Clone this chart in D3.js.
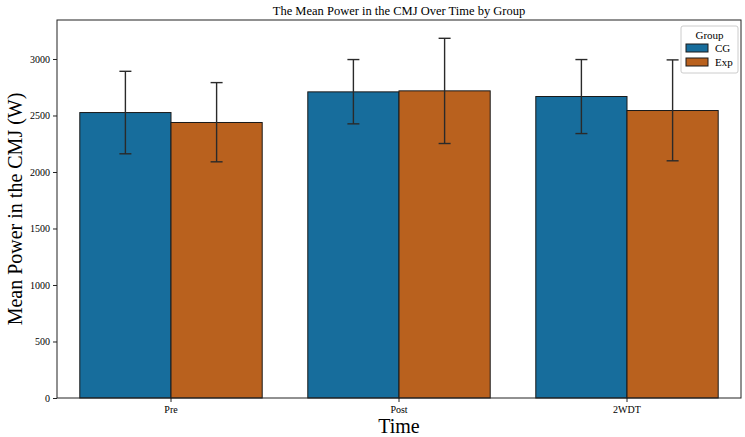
<!DOCTYPE html>
<html>
<head>
<meta charset="utf-8">
<script src="https://cdn.jsdelivr.net/npm/d3@7"></script>
<style>
  body { margin: 0; background: #fff; }
  svg text { font-family: "Liberation Serif", "Times New Roman", serif; fill: #000; }
</style>
</head>
<body>
<div id="chart"></div>
<script>
// Data
const times = ["Pre", "Post", "2WDT"];
const groups = ["CG", "Exp"];
const cgMean = [2526, 2709, 2668];
const cgLow = [2161, 2426, 2340];
const cgHigh = [2891, 2995, 2995];
const expMean = [2438, 2718, 2544];
const expLow = [2090, 2252, 2099];
const expHigh = [2791, 3183, 2992];
const yTicks = [0, 500, 1000, 1500, 2000, 2500, 3000];

const colors = { CG: "#176d9c", Exp: "#b9611e" };

const rows = [];
times.forEach((t, i) => {
    rows.push({ time: t, group: "CG", mean: cgMean[i], lo: cgLow[i], hi: cgHigh[i] });
    rows.push({ time: t, group: "Exp", mean: expMean[i], lo: expLow[i], hi: expHigh[i] });
});

const width = 745, height = 437;
const margin = { top: 20, right: 4, bottom: 39, left: 57 };
const innerW = width - margin.left - margin.right;
const innerH = height - margin.top - margin.bottom;

const svg = d3.select("#chart").append("svg")
    .attr("width", width)
    .attr("height", height);

const g = svg.append("g")
    .attr("transform", `translate(${margin.left},${margin.top})`);

// Scales
const x = d3.scaleBand().domain(times).range([0, innerW]).paddingInner(0.2).paddingOuter(0.1);
const x1 = d3.scaleBand().domain(groups).range([0, x.bandwidth()]);
const y = d3.scaleLinear().domain([0, 3345]).range([innerH, 0]);

// Bars
g.selectAll("rect.bar")
    .data(rows)
    .enter().append("rect")
    .attr("class", "bar")
    .attr("x", d => x(d.time) + x1(d.group))
    .attr("y", d => y(d.mean))
    .attr("width", x1.bandwidth())
    .attr("height", d => y(0) - y(d.mean))
    .attr("fill", d => colors[d.group])
    .attr("stroke", "#1a1a1a")
    .attr("stroke-width", 1);

// Error bars
const cap = 6;
const err = g.selectAll("g.err")
    .data(rows)
    .enter().append("g")
    .attr("class", "err")
    .attr("stroke", "#2a2a2a")
    .attr("stroke-width", 1.4);
err.append("line")
    .attr("x1", d => x(d.time) + x1(d.group) + x1.bandwidth() / 2)
    .attr("x2", d => x(d.time) + x1(d.group) + x1.bandwidth() / 2)
    .attr("y1", d => y(d.lo))
    .attr("y2", d => y(d.hi));
err.append("line")
    .attr("x1", d => x(d.time) + x1(d.group) + x1.bandwidth() / 2 - cap)
    .attr("x2", d => x(d.time) + x1(d.group) + x1.bandwidth() / 2 + cap)
    .attr("y1", d => y(d.hi))
    .attr("y2", d => y(d.hi));
err.append("line")
    .attr("x1", d => x(d.time) + x1(d.group) + x1.bandwidth() / 2 - cap)
    .attr("x2", d => x(d.time) + x1(d.group) + x1.bandwidth() / 2 + cap)
    .attr("y1", d => y(d.lo))
    .attr("y2", d => y(d.lo));

// Axes
const xAxis = g.append("g")
    .attr("transform", `translate(0,${innerH})`)
    .call(d3.axisBottom(x).tickSize(4).tickPadding(4));
const yAxis = g.append("g")
    .call(d3.axisLeft(y).tickValues(yTicks).tickFormat(d3.format("d")).tickSize(4).tickPadding(3));
[xAxis, yAxis].forEach(a => {
    a.select(".domain").remove();
    a.selectAll("text").style("font-size", "10px");
    a.selectAll("line").attr("stroke", "#222");
});

// Frame
g.append("rect")
    .attr("width", innerW)
    .attr("height", innerH)
    .attr("fill", "none")
    .attr("stroke", "#222")
    .attr("stroke-width", 1);

// Labels
svg.append("text")
    .attr("x", margin.left + innerW / 2)
    .attr("y", 15)
    .attr("text-anchor", "middle")
    .style("font-size", "12.5px")
    .text("The Mean Power in the CMJ Over Time by Group");

svg.append("text")
    .attr("x", margin.left + innerW / 2)
    .attr("y", height - 4)
    .attr("text-anchor", "middle")
    .style("font-size", "20px")
    .text("Time");

svg.append("text")
    .attr("transform", `translate(22,${margin.top + innerH / 2}) rotate(-90)`)
    .attr("text-anchor", "middle")
    .style("font-size", "20px")
    .text("Mean Power in the CMJ (W)");

// Legend
const legend = svg.append("g").attr("transform", "translate(681,26)");
legend.append("rect")
    .attr("width", 57)
    .attr("height", 47)
    .attr("rx", 2)
    .attr("fill", "#fff")
    .attr("fill-opacity", 0.8)
    .attr("stroke", "#ccc");
legend.append("text")
    .attr("x", 28.5)
    .attr("y", 13)
    .attr("text-anchor", "middle")
    .style("font-size", "11px")
    .text("Group");
groups.forEach((grp, i) => {
    legend.append("rect")
        .attr("x", 5)
        .attr("y", 18 + i * 14)
        .attr("width", 22)
        .attr("height", 8)
        .attr("fill", colors[grp])
        .attr("stroke", "#1a1a1a");
    legend.append("text")
        .attr("x", 34)
        .attr("y", 26 + i * 14)
        .style("font-size", "11px")
        .text(grp);
});
</script>
</body>
</html>
